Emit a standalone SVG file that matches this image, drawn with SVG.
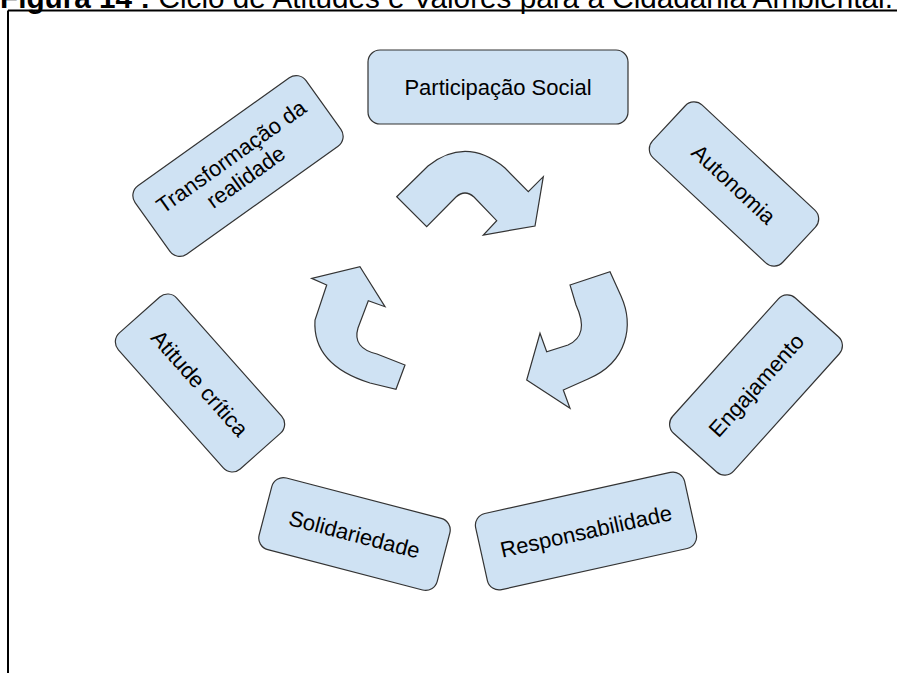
<svg xmlns="http://www.w3.org/2000/svg" width="897" height="673" viewBox="0 0 897 673">
<style>
.box{fill:#cfe2f3;stroke:#333;stroke-width:1.2}
.lbl{font-family:"Liberation Sans",Arial,sans-serif;font-size:22px;fill:#000;text-anchor:middle}
.arr{fill:#cfe2f3;stroke:#333;stroke-width:1.2;stroke-linejoin:miter}
.title{font-family:"Liberation Sans",Arial,sans-serif;font-size:29px;fill:#000}
</style>
<rect width="897" height="673" fill="#fff"/>
<text class="title" x="0" y="8" textLength="893" lengthAdjust="spacingAndGlyphs"><tspan font-weight="bold">Figura 14 :</tspan> Ciclo de Atitudes e Valores para a Cidadania Ambiental.</text>
<path d="M8,10.5 H897 M8,10.5 V673" fill="none" stroke="#000" stroke-width="2"/>

<g id="participacao">
<rect class="box" x="368" y="50" width="260" height="74" rx="12"/>
<text class="lbl" x="498" y="95">Participação Social</text>
</g>
<g id="autonomia" transform="translate(734,184) rotate(43)">
<rect class="box" x="-89" y="-36" width="178" height="72" rx="12"/>
<text class="lbl" x="0" y="8">Autonomia</text>
</g>
<g id="engajamento" transform="translate(756,385) rotate(-48)">
<rect class="box" x="-91" y="-41" width="182" height="82" rx="12"/>
<text class="lbl" x="0" y="8">Engajamento</text>
</g>
<g id="responsabilidade" transform="translate(586,531) rotate(-12.5)">
<rect class="box" x="-107" y="-39" width="214" height="78" rx="12"/>
<text class="lbl" x="0" y="8">Responsabilidade</text>
</g>
<g id="solidariedade" transform="translate(354.5,534) rotate(14.6)">
<rect class="box" x="-92" y="-37" width="184" height="74" rx="12"/>
<text class="lbl" x="0" y="8">Solidariedade</text>
</g>
<g id="atitude" transform="translate(200,383) rotate(48.4)">
<rect class="box" x="-91" y="-39" width="182" height="78" rx="12"/>
<text class="lbl" x="0" y="8">Atitude crítica</text>
</g>
<g id="transformacao" transform="translate(238,166) rotate(-35.5)">
<rect class="box" x="-105" y="-42" width="210" height="84" rx="12"/>
<text class="lbl" x="0" y="-4">Transformação da</text>
<text class="lbl" x="0" y="21">realidade</text>
</g>

<g id="connectors">
<path class="arr" d="M396.7,196.7 L428,166 Q466,136 505,168 L528.3,191.7 L543.3,176.7 L535,226 L483.3,235 L496.7,220.7 L474,197 Q465,189 456,197 L426.7,226.7 Z"/>
<path class="arr" d="M570,285 L610,271.7 L621,296 C634,325 628,362 588,379 L563.3,390 L570,408.3 L526.7,380 L540,333.3 L546.7,351.7 L568,345 Q590,335 576,305 Z"/>
<path class="arr" d="M360,266.7 L385,306.7 L368.3,300.7 L358,328 Q352,348 377,354 L405,365 L396,389.3 L370,383 C335,372 313,352 315,320 L326.7,285 L311.7,278.3 Z"/>
</g>
</svg>
